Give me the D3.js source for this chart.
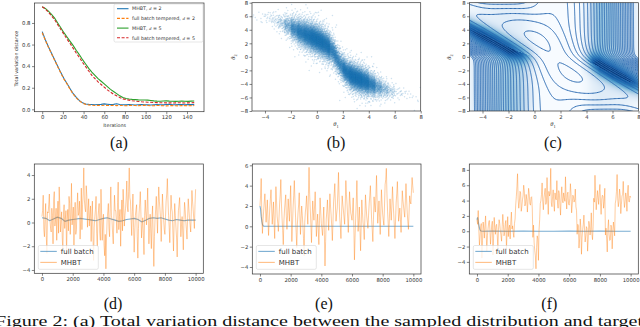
<!DOCTYPE html>
<html><head><meta charset="utf-8">
<script src="https://cdn.jsdelivr.net/npm/d3@7"></script>
<style>
body{margin:0;background:#fff}
svg{display:block}
</style>
</head><body>
<svg id="c" width="640" height="327" font-family="DejaVu Sans, sans-serif"></svg>
<script>
// ================= DATA =================
// (a) total variation distance vs iterations (sampled every 3 iterations)
const tvIter = [0,3,6,9,12,15,18,21,24,27,30,33,36,39,42,45,48,51,54,57,60,63,66,69,72,75,78,81,84,87,90,93,96,99,102,105,108,111,114,117,120,123,126,129,132,135,138,141,144,147];
const tvMhbt2 = [.72,.645,.58,.52,.46,.40,.34,.285,.24,.19,.145,.11,.08,.06,.05,.046,.044,.042,.044,.046,.05,.047,.044,.046,.051,.045,.042,.041,.044,.042,.04,.043,.045,.042,.041,.04,.043,.045,.042,.041,.044,.046,.043,.042,.045,.044,.042,.044,.045,.044];
const tvFull2 = [.71,.64,.575,.515,.455,.395,.335,.28,.235,.185,.14,.105,.078,.058,.046,.041,.038,.036,.037,.035,.038,.036,.035,.037,.034,.036,.035,.033,.036,.037,.035,.034,.036,.037,.035,.033,.034,.036,.035,.033,.032,.034,.035,.033,.032,.034,.035,.033,.034,.035];
const tvMhbt5 = [.95,.935,.91,.88,.845,.80,.755,.71,.67,.63,.59,.545,.505,.46,.42,.38,.345,.315,.285,.26,.235,.21,.185,.165,.145,.125,.11,.10,.095,.092,.09,.088,.087,.086,.085,.082,.078,.076,.075,.077,.078,.076,.075,.074,.075,.076,.075,.074,.076,.077];
const tvFull5 = [.95,.93,.90,.865,.83,.785,.74,.695,.65,.61,.565,.52,.48,.435,.395,.355,.315,.285,.255,.23,.205,.18,.16,.14,.125,.11,.097,.09,.085,.08,.076,.073,.07,.068,.066,.065,.063,.062,.061,.061,.06,.06,.059,.06,.061,.06,.059,.06,.061,.062];
const tvSeries = ["MHBT, d = 2","full batch tempered, d = 2","MHBT, d = 5","full batch tempered, d = 5"];

// (b) posterior samples: band of the sample cloud read per column (x centre, centre y, density level 0-9, spread)
const cloudX      = [-4.75,-4.25,-3.75,-3.25,-2.75,-2.25,-1.75,-1.25,-0.75,-0.25,0.25,0.75,1.25,1.75,2.25,2.75,3.25,3.75,4.25,4.75,5.25,5.75,6.25,6.75,7.25,7.75];
const cloudY      = [6.0,6.0,5.8,5.4,5.0,4.6,4.1,3.6,3.2,2.8,2.3,1.7,0.8,-1.0,-2.2,-2.9,-3.3,-3.7,-4.1,-4.5,-4.8,-5.1,-5.3,-5.5,-5.7,-6.2];
const cloudLevel  = [0.5,0.6,1,1.5,2.2,3.7,5.6,7,8,9,9,8.5,6.5,6,7.5,9,9,8,6.2,4.2,3,2,1.1,0.8,0.6,0.5];
const cloudSpread = [0.5,0.5,0.55,0.65,0.75,0.85,0.95,1.0,1.05,1.05,1.05,1.05,1.05,1.0,0.95,0.95,0.95,0.95,0.9,0.85,0.75,0.65,0.55,0.5,0.5,0.5];
const cloudOutliers = [[-4.0,6.3],[-3.6,6.5],[-3.0,6.1],[0.0,6.5],[1.2,6.1],[-4.3,5.2],[6.5,-5.0],[7.0,-5.5],[7.8,-6.6],[5.8,-6.0]];

// (c) model for the contour panel: observations and variances
const obs = [-1.6,-1.1,-0.7,-0.4,-0.2,0.0,0.3,0.5,0.9,1.4,1.6,2.1,2.5,2.7,3.0,3.2,3.4,3.7,4.1,4.6];
const obsVar = 2, prior1Var = 25, prior2Var = 25;
const contourStep = 7.0, contourFirst = 1.5, contourCount = 30;
// background shading, per theta1
const bgX     = [-5,-4.5,-4,-3,-2,-1.5,-1,-0.5,0,0.5,3.5,4,4.5,5,6,7,7.5,8];
const bgFloor = [0.05,0.15,0.25,0.32,0.38,0.35,0.3,0.18,0.05,0,0,0.1,0.3,0.4,0.35,0.25,0.15,0.05];
const bgPeak  = [0.8,0.82,0.8,0.75,0.7,0.6,0.5,0.35,0.15,0,0,0.25,0.55,0.72,0.78,0.78,0.75,0.65];
const bgBandY = [4.2,3.7,3.3,2.4,1.4,1.0,0.6,0.3,0,0,-0.5,-0.6,-1.0,-1.5,-2.5,-3.4,-3.8,-4.2];

// (d)(e)(f) traces, MHBT: values at iterations 0,80,160,... (even) and 40,120,200,... (odd)
const traceStep = 40;
const mhbtD = [0.5,2.3,-1.2,1.6,-2.6,0.8,2.4,-0.5,1.2,-1.8, 2.6,0.2,-1.5,1.8,3.0,-0.8,0.9,-2.4,1.5,0.3, -2.7,1.1,2.2,-1.0,3.3,0.4,-1.9,1.7,-0.6,2.5, 0.8,-1.4,2.9,1.5,4.6,1.2,3.1,-0.4,2.0,0.6, -1.6,1.8,-3.2,0.5,2.2,-2.0,1.0,-0.8,2.8,-1.5, 0.7,-2.8,-3.9,0.2,1.6,-1.2,3.0,0.1,-1.8,2.3, 1.0,-0.9,3.4,0.5,-2.0,1.9,2.8,-0.3,1.2,3.5, 0.9,4.6,1.8,-1.1,2.4,-2.5,0.6,1.5,-3.0,0.8, 2.6,-1.3,0.4,-2.7,1.9,-0.2,2.9,-1.8,0.7,-2.2, 1.4,-3.7,0.3,2.2,-0.9,3.0,1.1,-1.6,2.4,0.2, -1.0,1.8,3.7,0.6,-1.7,2.3,0.9,-2.4,1.6,-0.4, -2.9,1.0,2.1,-1.2,0.5,-2.3,1.7,0.1,-1.4,2.0, 0.4,-0.8,2.7,1.1,-0.5,2.8];
const mhbtD_odd = [1.0,-0.6,0.4,-1.1,0.9,1.5,0.2,-0.8,0.6,1.9, -0.3,1.2,0.5,-0.9,1.4,0.1,-1.3,0.7,-0.5,1.0, 0.3,-0.7,1.6,0.8,-0.2,1.3,0.4,-1.0,1.1,0.6, 1.8,0.2,-0.6,2.4,1.9,0.9,2.2,1.0,-0.3,1.4, 0.5,-1.2,-0.4,1.1,-0.9,0.3,1.6,-1.5,0.8,0.1, -1.9,-1.0,-1.4,0.9,-0.5,1.2,0.6,-1.0,0.4,1.0, 0.2,1.7,-0.6,1.1,0.4,-0.7,1.5,0.6,2.0,1.3, 2.6,2.1,0.3,0.9,-0.4,-0.8,1.1,-1.2,-0.5,1.6, 0.7,-0.3,-1.1,0.6,0.8,1.2,0.2,-0.5,-0.9,0.4, -1.5,-1.2,1.1,0.6,1.4,1.8,0.3,0.5,1.2,-0.6, 0.5,2.4,1.9,-0.4,0.7,1.2,-0.8,-0.1,0.6,-1.3, -0.6,1.5,0.4,-0.3,-0.8,0.2,1.1,-0.6,0.4,1.2, -0.2,0.9,1.8,0.3,1.5];
const mhbtE = [2.0,4.7,-0.7,1.5,3.2,0.4,2.6,-0.9,1.8,3.6, 0.2,2.4,-1.2,3.9,1.0,-0.5,2.2,4.6,0.8,-1.8, 1.6,3.1,-0.3,2.7,0.5,4.0,-1.5,1.9,4.5,0.9, -2.1,1.3,3.3,-0.8,2.0,0.1,-2.9,1.4,3.0,0.2, 5.8,1.7,-1.6,2.5,0.6,3.4,-1.0,1.2,-1.8,2.8, 0.3,-0.9,1.9,-3.9,0.7,2.6,-0.4,3.2,1.1,-1.4, 2.4,4.2,0.5,1.8,5.3,0.9,-1.2,3.0,1.6,0.2, 4.5,2.1,-0.6,3.4,1.3,0.6,2.8,-3.3,0.8,4.5, -0.5,1.9,-2.4,2.6,0.4,-1.3,3.1,1.0,-0.2,2.2, 4.0,0.7,-1.5,2.9,1.4,5.0,0.3,2.5,-0.8,3.6, 1.2,0.1,4.1,5.7,1.5,-1.0,2.7,0.6,3.9,1.3, -1.2,2.3,4.4,0.5,1.8,-0.6,3.5,2.0,0.9,4.2, 1.4,-0.3,3.0,2.2,4.8,3.3];
const mhbtE_odd = [3.0,1.2,0.6,2.4,1.8,1.5,0.7,0.5,2.7,1.9, 1.3,0.4,1.6,2.5,0.3,0.8,3.1,2.2,-0.4,0.5, 2.4,1.0,1.1,1.6,2.2,1.3,0.2,3.0,2.6,-0.6, 0.2,2.1,1.2,0.7,1.1,-1.2,0.4,2.0,1.5,3.2, 3.1,0.2,0.6,1.4,2.0,1.1,0.2,-0.2,0.6,1.5, -0.3,0.6,-0.8,-1.5,1.5,1.0,1.3,2.0,0.0,0.4, 3.2,2.0,1.2,3.4,2.8,0.0,1.0,2.2,0.9,2.1, 3.1,0.8,1.4,2.3,1.0,1.6,0.2,-1.1,2.4,1.8, 0.6,-0.2,0.1,1.4,-0.3,0.8,2.0,0.4,1.1,3.0, 2.2,-0.3,0.7,2.0,3.1,2.4,1.3,0.9,1.4,2.3, 0.6,2.0,4.6,3.2,0.3,0.8,1.6,2.1,2.5,0.1, 0.5,3.2,2.4,1.1,0.7,1.4,2.6,1.4,2.5,2.7, 0.5,1.3,2.4,3.5,4.0];
const mhbtF = [1.5,2.7,-1.8,0.6,-3.5,1.2,-0.9,2.0,-2.6,0.3, 1.4,-1.7,0.8,-3.1,1.8,-0.4,0.9,-2.2,1.5,0.1, -1.3,2.2,-0.6,1.0,-2.4,1.9,0.4,-1.0,2.5,0.7, -0.8,1.6, 4.5,7.5,3.0,5.2,2.6,4.1,6.0,3.3,4.8,2.5,5.6,3.6,4.4,2.9, 0.8,-2.5,-4.9,-0.6,-3.8,1.5, 4.0,6.3,2.8,5.0,3.5,7.0,2.2,4.6,8.2,3.2,5.4,2.6,4.2,6.6,3.0,4.9,2.1,5.8,3.7,4.4,7.1,2.9,5.1,3.4,6.2,2.4,4.7,3.8,5.5,2.7, 0.9,-2.2,1.6,-3.0,0.2,2.1,-1.4,0.6,-2.6,1.3,-0.5,2.4,-1.1, 4.3,7.3,2.8,5.3,3.5,6.1,2.2,4.7,3.0,5.6, 0.4,-2.7,1.5,-1.2,0.8,-2.3,1.2,-0.6, 4.1,7.4,3.2,5.5,2.3,4.6,6.5,3.1,5.0,2.6,6.0,3.8,4.4];
const mhbtF_odd = [0.9,0.2,-0.8,1.0,-1.2,0.4,0.8,-0.3,-0.6,1.1, 0.3,-0.4,1.3,-0.9,0.5,0.7,-0.6,0.2,1.0,-0.5, 0.6,0.9,-0.2,1.4,0.1,-0.7,0.8,1.2,0.3,-0.2, 1.0, 3.4,5.8,4.2,3.8,5.0,3.2,4.6,5.3,3.6,4.1,3.9,4.9,3.4,4.5, -0.8,-1.5,-3.2,-2.1,-1.0,0.2, 3.6,4.8,3.9,4.3,5.6,3.8,4.2,5.2,4.9,3.7,4.5,3.6,5.0,4.1,3.8,5.3,3.4,4.6,4.0,5.0,3.9,4.4,4.8,3.6,4.3,4.9,3.5,4.5,4.1,3.2, -0.4,0.7,-1.0,0.5,-0.8,0.9,0.3,-0.6,0.4,-1.1,0.8,0.2,-0.3,0.6, 3.8,4.9,4.0,4.4,5.1,3.7,4.2,4.6,3.9, -0.5,-1.0,0.3,-0.4,-1.1,0.5,-0.2,0.4, 3.6,5.2,4.3,3.9,4.7,3.5,4.8,4.2,3.8,4.5,5.1,3.9,4.6];
// full batch traces (iteration, value)
const fullT_D = [0,250,500,750,1000,1250,1500,1750,2000,2250,2500,2750,3000,3250,3500,3750,4000,4250,4500,4750,5000,5250,5500,5750,6000,6250,6500,6750,7000,7250,7500,7750,8000,8250,8500,8750,9000,9250,9500,9750,10000];
const fullV_D = [0.4,0.35,0.15,0.3,0.45,0.35,0.1,0.2,0.25,0.3,0.35,0.3,0.25,0.2,0.15,0.25,0.35,0.4,0.3,0.2,0.1,0.15,0.25,0.3,0.35,0.25,0.05,0.2,0.35,0.4,0.35,0.4,0.3,0.2,0.15,0.25,0.2,0.15,0.2,0.2,0.2];
const fullT_E = [0,40,80,120,160,200,260,400,1000,2000,3000,4000,5000,6000,7000,8000,9000,10000];
const fullV_E = [2.0,1.7,1.0,0.5,0.2,0.06,0.02,0,0.01,0,0.01,0,0,0.01,0,0.01,0,0];
const fullT_F = [0,40,80,120,160,200,260,400,1000,2000,3000,4000,5000,6000,7000,8000,9000,10000];
const fullV_F = [1.5,1.8,1.3,0.8,0.4,0.15,0.03,0,0.01,0,0.01,0,0,0.01,0,0.01,0,0];
const traceLegend = ["full batch","MHBT"];

// ================= DRAWING =================
const svg = d3.select('#c');
const C = {blue:'#1f77b4',orange:'#ff7f0e',green:'#2ca02c',red:'#d62728'};
const SANS = 'DejaVu Sans, sans-serif', SERIF = 'Liberation Serif, DejaVu Serif, serif';
const tickFont = 5.3;

function axes(g, x, y, xt, yt, xf, yf){
  const ax = g.append('g').attr('transform',`translate(0,${y.range()[0]})`)
    .call(d3.axisBottom(x).tickValues(xt).tickFormat(xf).tickSize(2.5).tickSizeOuter(0).tickPadding(1.5));
  const ay = g.append('g').attr('transform',`translate(${x.range()[0]},0)`)
    .call(d3.axisLeft(y).tickValues(yt).tickFormat(yf).tickSize(2.5).tickSizeOuter(0).tickPadding(1.5));
  [ax,ay].forEach(a=>{
    a.select('.domain').remove();
    a.selectAll('line').attr('stroke','#333').attr('stroke-width',0.6);
    a.selectAll('text').style('font-size',tickFont+'px').attr('fill','#333').style('font-family',SANS);
  });
}
function spines(g,x,y){
  g.append('rect').attr('x',x.range()[0]).attr('y',y.range()[1])
   .attr('width',x.range()[1]-x.range()[0]).attr('height',y.range()[0]-y.range()[1])
   .attr('fill','none').attr('stroke','#333').attr('stroke-width',0.7);
}
function clip(id,x,y){
  svg.append('clipPath').attr('id',id).append('rect')
    .attr('x',x.range()[0]).attr('y',y.range()[1])
    .attr('width',x.range()[1]-x.range()[0]).attr('height',y.range()[0]-y.range()[1]);
  return `url(#${id})`;
}
function caption(txt,cx,by){
  svg.append('text').attr('x',cx).attr('y',by).attr('text-anchor','middle')
    .style('font-family',SERIF).style('font-size','16px').attr('fill','#111').text(txt);
}
function thetaLabel(g,x0,y0,idx,rot){
  const t = g.append('text').style('font-size','6.5px').attr('fill','#333').style('font-family',SERIF)
    .attr('transform',`translate(${x0},${y0})${rot?' rotate(-90)':''}`).attr('text-anchor','middle');
  t.append('tspan').style('font-style','italic').text('θ');
  t.append('tspan').style('font-size','4.3px').attr('dy',1.5).text(idx);
}

// ---------- (a)
{
  const g = svg.append('g');
  const x = d3.scaleLinear().domain([-7.45,156.45]).range([34.5,204]);
  const y = d3.scaleLinear().domain([-0.022,0.985]).range([111.7,3]);
  axes(g,x,y,d3.range(0,141,20),[0,0.2,0.4,0.6,0.8],d3.format('d'),d3.format('.1f'));
  const line = d3.line().x((d,i)=>x(tvIter[i])).y(d=>y(d));
  const styles = [[tvMhbt2,C.blue,null],[tvFull2,C.orange,'3,1.6'],[tvMhbt5,C.green,null],[tvFull5,C.red,'3,1.6']];
  styles.forEach(([v,col,da])=>{
    g.append('path').attr('d',line(v)).attr('fill','none').attr('stroke',col).attr('stroke-width',1.1)
     .attr('stroke-dasharray',da);
  });
  spines(g,x,y);
  g.append('text').attr('x',x(70)).attr('y',126.5).attr('text-anchor','middle').style('font-size','4.8px').attr('fill','#333').text('Iterations');
  g.append('text').attr('transform',`translate(17.5,${y(0.47)}) rotate(-90)`).attr('text-anchor','middle').style('font-size','4.8px').attr('fill','#333').text('Total variation distance');
  const lg = g.append('g');
  lg.append('rect').attr('x',114).attr('y',4).attr('width',89).attr('height',38).attr('rx',1.5)
    .attr('fill','#fff').attr('fill-opacity',0.85).attr('stroke','#ccc').attr('stroke-width',0.5);
  const ly = d3.scalePoint().domain(tvSeries).range([8.7,37.8]);
  styles.forEach(([v,col,da],i)=>{
    const yy = ly(tvSeries[i]);
    lg.append('line').attr('x1',117).attr('x2',128.5).attr('y1',yy).attr('y2',yy).attr('stroke',col).attr('stroke-width',1.1).attr('stroke-dasharray',da);
    const t = lg.append('text').attr('x',132).attr('y',yy+1.7).style('font-size','4.8px').attr('fill','#333');
    const parts = tvSeries[i].split('d =');
    t.append('tspan').text(parts[0]);
    t.append('tspan').style('font-style','italic').style('font-family',SERIF).text('d');
    t.append('tspan').text(' =' + parts[1]);
  });
  caption('(a)',119,147.5);
}

// ---------- (b)
function halton(i,b){let f=1,r=0;while(i>0){f/=b;r+=f*(i%b);i=Math.floor(i/b);}return r;}
{
  const g = svg.append('g');
  const x = d3.scaleLinear().domain([-5,8]).range([252,420.7]);
  const y = d3.scaleLinear().domain([-8,8]).range([111,2.7]);
  axes(g,x,y,d3.range(-4,9,2),d3.range(-8,9,2),d3.format('d'),d3.format('d'));
  const centre = d3.scaleLinear().domain(cloudX).range(cloudY);
  const pts = [];
  let k = 1;
  cloudX.forEach((cx,i)=>{
    const n = Math.round(cloudLevel[i]*cloudLevel[i]*14);
    for(let j=0;j<n;j++,k++){
      const u = halton(k,2), v = halton(k,3);
      const px = cx-0.25+0.5*u;
      const py = centre(px) + cloudSpread[i]*0.55*Math.log(v/(1-v));
      pts.push([px,py]);
    }
  });
  cloudOutliers.forEach(p=>pts.push(p));
  const cp = clip('clipb',x,y);
  g.append('g').attr('clip-path',cp).selectAll('circle').data(pts).join('circle')
    .attr('cx',d=>x(d[0])).attr('cy',d=>y(d[1])).attr('r',0.75)
    .attr('fill',C.blue).attr('fill-opacity',0.22);
  spines(g,x,y);
  thetaLabel(g,336,126,'1',false);
  thetaLabel(g,235,57,'2',true);
  caption('(b)',336,147.5);
}

// ---------- (c)
{
  const g = svg.append('g');
  const x = d3.scaleLinear().domain([-5,8]).range([469.5,638.5]);
  const y = d3.scaleLinear().domain([-8,8]).range([111,2.7]);
  const cp = clip('clipc',x,y);
  const fl = d3.scaleLinear().domain(bgX).range(bgFloor).clamp(true);
  const pk = d3.scaleLinear().domain(bgX).range(bgPeak).clamp(true);
  const by = d3.scaleLinear().domain(bgX).range(bgBandY).clamp(true);
  const x0 = Math.floor(x.range()[0]), x1 = Math.ceil(x.range()[1]);
  const y0 = Math.floor(y.range()[1]), y1 = Math.ceil(y.range()[0]);
  const cw = x1-x0, ch = y1-y0;
  const cv = document.createElement('canvas'); cv.width=cw; cv.height=ch;
  const ctx = cv.getContext('2d'); const img = ctx.createImageData(cw,ch);
  for(let j=0;j<ch;j++){
    const ty = y.invert(y0+j+0.5);
    for(let i=0;i<cw;i++){
      const tx = x.invert(x0+i+0.5);
      const b = by(tx), d = ty-b;
      const side = tx<1.5 ? (d<0?1:0.3) : (d>0?1:0.3);
      let v = fl(tx)*side + pk(tx)*Math.exp(-0.5*(d/1.1)*(d/1.1));
      v = Math.max(0,Math.min(0.95,v));
      const c = d3.rgb(d3.interpolateBlues(v));
      const o = 4*(j*cw+i);
      img.data[o]=c.r;img.data[o+1]=c.g;img.data[o+2]=c.b;img.data[o+3]=255;
    }
  }
  ctx.putImageData(img,0,0);
  g.append('image').attr('x',x0).attr('y',y0).attr('width',cw).attr('height',ch)
    .attr('href',cv.toDataURL()).attr('clip-path',cp).attr('preserveAspectRatio','none');
  function logPost(t1,t2){
    let s=0;
    for(const o of obs){
      const a=-((o-t1)*(o-t1))/(2*obsVar), b=-((o-t1-t2)*(o-t1-t2))/(2*obsVar), m=Math.max(a,b);
      s+=m+Math.log(0.5*Math.exp(a-m)+0.5*Math.exp(b-m));
    }
    return s - t1*t1/(2*prior1Var) - t2*t2/(2*prior2Var);
  }
  const gxs = d3.range(-5.5,8.5001,0.1), gys = d3.range(8.5,-8.5001,-0.1);
  const vals = [];
  gys.forEach(ty=>gxs.forEach(tx=>vals.push(logPost(tx,ty))));
  const Lmax = d3.max(vals);
  const levels = d3.range(0,contourCount).map(k=>Lmax-contourFirst-contourStep*k);
  const cont = d3.contours().size([gxs.length,gys.length]).thresholds(levels)(vals);
  const gxS = d3.scaleLinear().domain([0.5,gxs.length-0.5]).range([gxs[0],gxs[gxs.length-1]]);
  const gyS = d3.scaleLinear().domain([0.5,gys.length-0.5]).range([gys[0],gys[gys.length-1]]);
  const proj = d3.geoTransform({point(px,py){this.stream.point(x(gxS(px)),y(gyS(py)));}});
  const path = d3.geoPath(proj);
  g.append('g').attr('clip-path',cp).selectAll('path').data(cont).join('path')
    .attr('d',path).attr('fill','none').attr('stroke','#2f6db3').attr('stroke-width',1.0);
  axes(g,x,y,d3.range(-4,9,2),d3.range(-8,9,2),d3.format('d'),d3.format('d'));
  spines(g,x,y);
  thetaLabel(g,553,126,'1',false);
  thetaLabel(g,451,57,'2',true);
  caption('(c)',553,147.5);
}

// ---------- (d)(e)(f)
function merge(ev,od){const r=[];ev.forEach((v,i)=>{r.push(v);if(i<od.length)r.push(od[i]);});return r;}
function tracePanel(cfg){
  const g = svg.append('g');
  const x = d3.scaleLinear().domain([-500,10500]).range([cfg.l,cfg.r]);
  const y = d3.scaleLinear().domain(cfg.yd).range([cfg.b,164]);
  axes(g,x,y,d3.range(0,10001,2000),cfg.yt,d3.format('d'),d3.format('d'));
  const cp = clip(cfg.id,x,y);
  const gg = g.append('g').attr('clip-path',cp);
  gg.append('path').attr('d',d3.line().x((d,i)=>x(cfg.ft[i])).y(d=>y(d))(cfg.fv))
    .attr('fill','none').attr('stroke',C.blue).attr('stroke-opacity',0.6).attr('stroke-width',1.1);
  gg.append('path').attr('d',d3.line().x((d,i)=>x(i*traceStep)).y(d=>y(d))(cfg.mv))
    .attr('fill','none').attr('stroke',C.orange).attr('stroke-opacity',0.5).attr('stroke-width',0.8);
  spines(g,x,y);
  const lx = cfg.l+4;
  const lg = g.append('g');
  lg.append('rect').attr('x',lx).attr('y',245.5).attr('width',60).attr('height',23.8).attr('rx',1.5)
    .attr('fill','#fff').attr('fill-opacity',0.8).attr('stroke','#ccc').attr('stroke-width',0.5);
  const ly = d3.scalePoint().domain(traceLegend).range([251.4,262.4]);
  [[C.blue,0.6],[C.orange,0.5]].forEach(([col,op],i)=>{
    const yy = ly(traceLegend[i]);
    lg.append('line').attr('x1',lx+2).attr('x2',lx+18.5).attr('y1',yy).attr('y2',yy)
      .attr('stroke',col).attr('stroke-opacity',op).attr('stroke-width',1.1);
    lg.append('text').attr('x',lx+22.5).attr('y',yy+2.5).style('font-size','7px').attr('fill','#333').text(traceLegend[i]);
  });
  caption(cfg.cap,cfg.cx,308.5);
}
tracePanel({id:'cd',l:34.3,r:203.3,b:273.3,yd:[-4.28,4.93],yt:[-4,-2,0,2,4],ft:fullT_D,fv:fullV_D,mv:merge(mhbtD,mhbtD_odd),cap:'(d)',cx:113});
tracePanel({id:'ce',l:252.3,r:421,b:274,yd:[-4.69,6.13],yt:[-4,-2,0,2,4,6],ft:fullT_E,fv:fullV_E,mv:merge(mhbtE,mhbtE_odd),cap:'(e)',cx:324});
tracePanel({id:'cf',l:469.3,r:638.3,b:274,yd:[-5.58,8.77],yt:[-4,-2,0,2,4,6,8],ft:fullT_F,fv:fullV_F,mv:merge(mhbtF,mhbtF_odd),cap:'(f)',cx:549.3});

svg.append('text').attr('x',-5).attr('y',326).style('font-family',SERIF)
  .style('font-size','15px').attr('fill','#111').attr('textLength',648).attr('lengthAdjust','spacingAndGlyphs')
  .text('Figure 2:  (a) Total variation distance between the sampled distribution and target');
</script>
</body></html>
